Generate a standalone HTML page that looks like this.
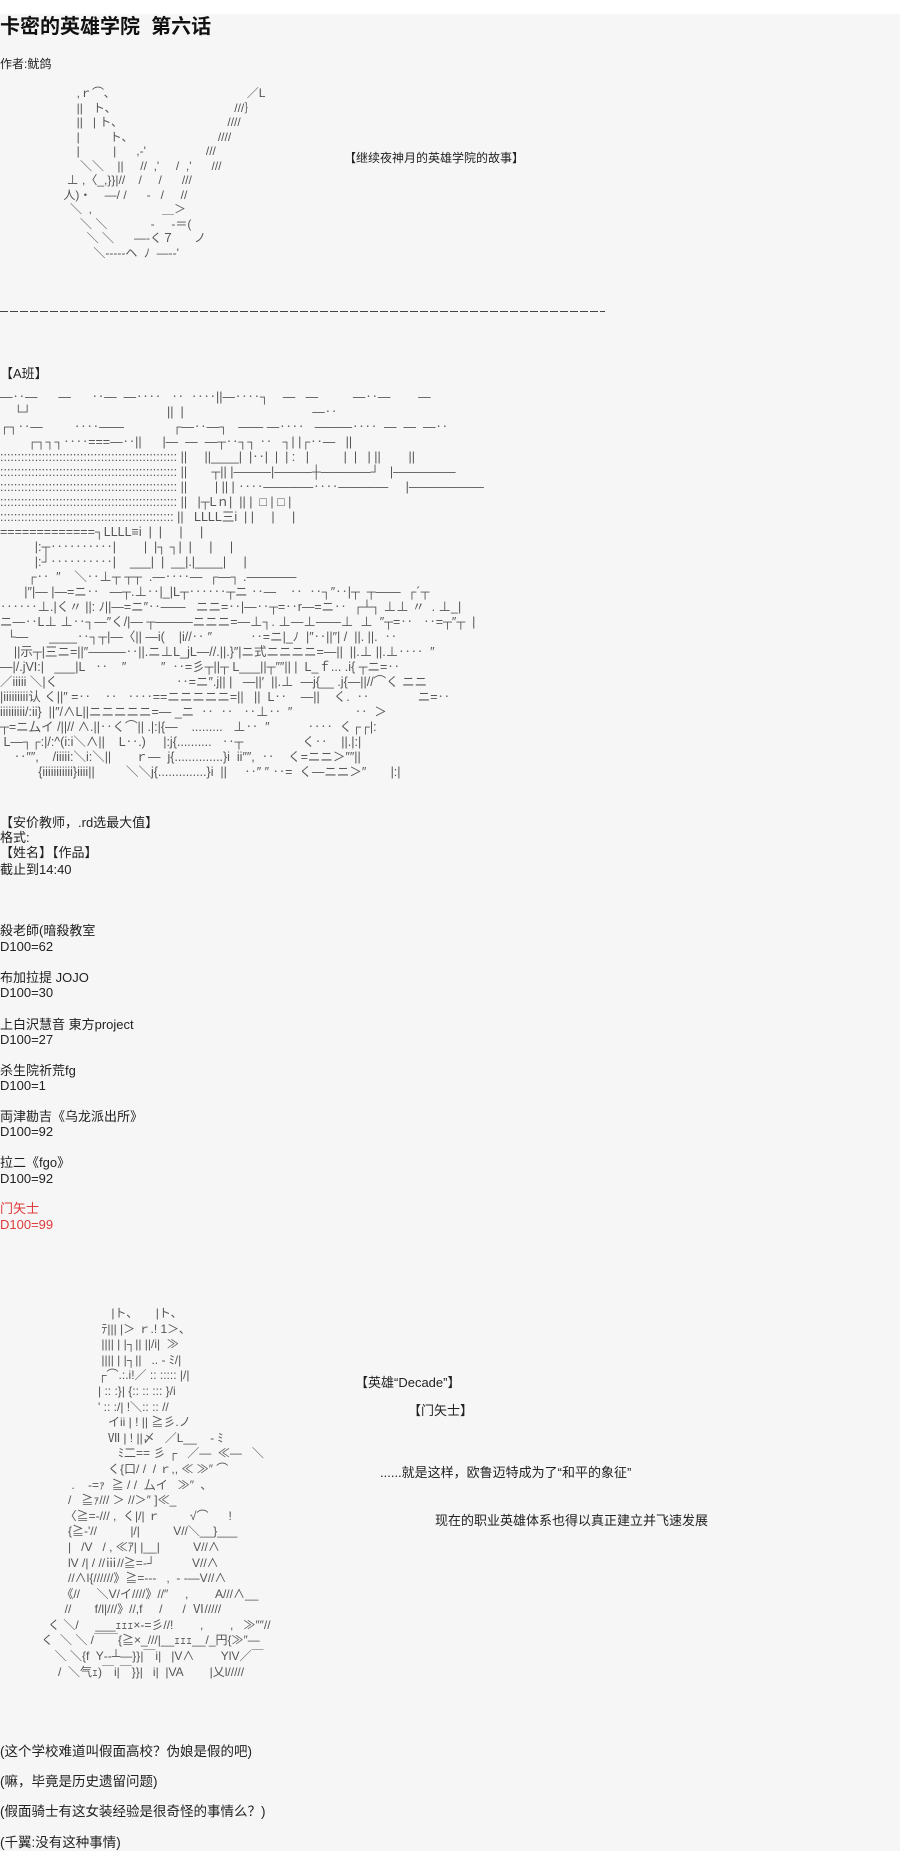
<!DOCTYPE html>
<html><head><meta charset="utf-8"><style>
html,body{margin:0;padding:0;}
body{width:900px;height:1851px;background:#f6f6f6;position:relative;overflow:hidden;font-family:"Liberation Sans","Noto Sans CJK SC",sans-serif;color:#222;}
.top{position:absolute;left:0;top:0;width:900px;height:14px;background:#fff;}
.t{position:absolute;white-space:nowrap;font-size:13px;line-height:15px;}
.aa{position:absolute;white-space:pre;font-family:"Liberation Sans","Noto Sans CJK JP",sans-serif;color:#555;font-size:11px;}
.red{color:#e03a3a;}
</style></head><body>
<div class="top"></div>
<div class="t" style="left:0;top:15px;font-size:20px;line-height:24px;font-weight:bold;color:#111;">卡密的英雄学院&nbsp;&nbsp;第六话</div>
<div class="t" style="left:0;top:57px;font-size:12px;">作者:鱿鸽</div>
<div class="aa" style="left:50px;top:86px;line-height:14.5px;font-size:12px;">        ,ｒ⌒､                                         ／L
        ||   ト､                                     ///｝
        ||   | ト､                                 ////
        |         ト､                           ////
        |          |      ,-'                  ///
         ＼＼    ||     //  ,'     /  ,'      ///
     ⊥ ,〈_,}}|//    /     /      ///
    人)・    ―/ /      -   /     //
      ＼  ,                     ＿＞
         ＼ ＼             -     ‐＝(
           ＼ ＼      ―‐く７      ノ
             ＼-----ヘ  ﾉ  ―-‐'</div>
<div class="t" style="left:344px;top:151px;font-size:12px;">【继续夜神月的英雄学院的故事】</div>
<div style="position:absolute;left:0;top:311px;width:605px;height:1px;background:repeating-linear-gradient(90deg,#444 0 8px,transparent 8px 10px);"></div>
<div class="t" style="left:0;top:366px;">【A班】</div>
<div class="aa" style="left:0;top:390px;line-height:15px;font-size:12.5px;">―‥―      ―      ‥―  ―‥‥   ‥  ‥‥||―‥‥┐    ―   ―          ―‥―        ―
    └┘                                       ||  |                                     ―‥
┌┐‥―         ‥‥――              ┌―‥―┐   ―― ―‥‥   ―――‥‥  ―  ―  ―‥
        ┌┐┐┐‥‥===―‥||      |―  ―  ―┬‥┐┐ ‥   ┐| |┌‥―   ||
::::::::::::::::::::::::::::::::::::::::::::::::::: ||     ||____|  |‥|  |  | :   |          |  |   | ||        ||
::::::::::::::::::::::::::::::::::::::::::::::::::: ||       ┬|| |―――|―――┼――――┘   |―――――
::::::::::::::::::::::::::::::::::::::::::::::::::: ||        | || | ‥‥――――‥‥――――     |――――――
::::::::::::::::::::::::::::::::::::::::::::::::::: ||   |┬Lｎ|  || |  □ | □ |
:::::::::::::::::::::::::::::::::::::::::::::::::: ||   LLLL三i  | |     |     |
=============┐LLLL≡i  |  |     |     |
          |:┬‥‥‥‥‥|        |  |┐ ┐|  |     |     |
          |:┘‥‥‥‥‥|    ___|  |  __|.|____|     |
        ┌‥  ″    ＼‥⊥┬ ┬┬  .―‥‥―  ┌―┐ .――――
       |″|― |―=ニ‥   ―┬.⊥‥|_|L┬‥‥‥┬ニ ‥―    ‥  ‥┐″‥|┬  ┬――  ┌´┬
‥‥‥⊥.|く〃 ||: ﾉ||―=ニ″‥――   ニニ=‥|―‥┬=‥r―=ニ‥  ┌┴┐ ⊥⊥ 〃  . ⊥_|
ニ―‥L⊥ ⊥‥┐―″く/|― ┬―――ニニニ=―⊥┐. ⊥―⊥――⊥  ⊥  ″┬=‥   ‥=┬″┬  |
  └―      ____‥┐┬|―〈|| ―i(    |i//‥ ″           ‥=ニ|_ﾉ  |″‥||″| /  ||. ||.  ‥
    ||示┬|三ニ=||″―――‥||.ニ⊥L_jL―//.||.}″|ニ式ニニニニ=―||  ||.⊥ ||.⊥‥‥  ″
―|/.jVI:|   ___|L   ‥    ″          ″  ‥=彡┬||┬ L___||┬″″|| |  L_ｆ... .i{ ┬ニ=‥
／iiiii ＼|く                                  ‥=ニ″.j|| |   ―||′  ||.⊥  ―j{__ .j{―||//⌒く ニニ
|iiiiiiiii认 く||″ =‥    ‥   ‥‥==ニニニニニ=||   ||  L‥    ―||    く.  ‥              ニ=‥
iiiiiiiii/:ii}  ||″/∧L||ニニニニニ=― _ニ  ‥  ‥   ‥⊥‥  ″                  ‥  ＞
┬=ニ厶イ /||// ∧.||‥く⌒|| .|:|{―    .........   ⊥‥  ″           ‥‥  く┌┌|:
 L―┐┌:|/:^(i:i＼∧||    L‥.)     |:j{..........   ‥┬                 く‥    ||.|:|
    ‥″″,    /iiiii:＼i:＼||       ｒ―  j{..............}i  ii″″,  ‥    く=ニニ＞″″||
           {iiiiiiiiiii}iiii||         ＼＼j{..............}i  ||     ‥″ ″ ‥=  く―ニニ＞″       |:|</div>
<div class="t" style="left:0;top:815px;">【安价教师，.rd选最大值】</div>
<div class="t" style="left:0;top:830px;">格式:</div>
<div class="t" style="left:0;top:845px;">【姓名】【作品】</div>
<div class="t" style="left:0;top:862px;">截止到14:40</div>
<div class="t" style="left:0;top:923px;">殺老師(暗殺教室</div>
<div class="t" style="left:0;top:939px;">D100=62</div>
<div class="t" style="left:0;top:970px;">布加拉提 JOJO</div>
<div class="t" style="left:0;top:985px;">D100=30</div>
<div class="t" style="left:0;top:1017px;">上白沢慧音 東方project</div>
<div class="t" style="left:0;top:1032px;">D100=27</div>
<div class="t" style="left:0;top:1063px;">杀生院祈荒fg</div>
<div class="t" style="left:0;top:1078px;">D100=1</div>
<div class="t" style="left:0;top:1109px;">両津勘吉《乌龙派出所》</div>
<div class="t" style="left:0;top:1124px;">D100=92</div>
<div class="t" style="left:0;top:1155px;">拉二《fgo》</div>
<div class="t" style="left:0;top:1171px;">D100=92</div>
<div class="t red" style="left:0;top:1201px;">门矢士</div>
<div class="t red" style="left:0;top:1217px;">D100=99</div>
<div class="aa" style="left:8px;top:1306px;line-height:15.6px;font-size:12px;">                               |ト､       |ト､
                            ﾃ||| |＞ ｒ.! 1＞､
                            |||| | |┐|| ||/i|  ≫
                            |||| | |┐||   .. ‐ ﾐ/|
                           ┌⌒.:.i!／ :: ::::: |/|
                           | :: :}| {:: :: ::: }/i
                           ' :: :/| !＼:: :: //
                              イii | ! || ≧彡.ノ
                              Ⅶ | ! ||〆   ／L__    ‐ ﾐ
                                 ﾐ二== 彡 ┌   ／―  ≪―   ＼
                              く{口/ /  / ｒ,, ≪ ≫″ ⌒
                   .    ‐=ｧ  ≧ / /  厶イ   ≫″  ､
                  /   ≧ｧ/// ＞ //＞″ ]≪_
                 〈≧=‐/// ,  く|/| ｒ         √⌒      !
                  {≧‐'//          |/|          V//＼__}___
                  |   /V   / , ≪ｱ| |__|          V//∧
                  lV /| / //ⅲ//≧=‐┘           V//∧
                  //∧l{//////》≧=‐‐‐   ,  ‐ ‐―V//∧
                《//     ＼V/イ////》//″     ,        A///∧__
                 //       f/l|///》//,f     /      /  Ⅵ/////
            く ＼/     ___ｪｪｪ×‐=彡//!        ,        ,   ≫″″//
          く  ＼ ＼ /￣￣{≧×_///|__ｪｪｪ__/_円{≫″―
              ＼ ＼{f  Y‐‐┴―}}|￣i|   |V∧        YlV／￣
               /  ＼气ｪ)￣i|￣}}|   i|  |VA        |乂l/////</div>
<div class="t" style="left:355px;top:1375px;">【英雄“Decade”】</div>
<div class="t" style="left:408px;top:1403px;">【门矢士】</div>
<div class="t" style="left:380px;top:1465px;">......就是这样，欧鲁迈特成为了“和平的象征”</div>
<div class="t" style="left:435px;top:1513px;">现在的职业英雄体系也得以真正建立并飞速发展</div>
<div class="t" style="left:0;top:1744px;font-size:13.5px;">(这个学校难道叫假面高校？伪娘是假的吧)</div>
<div class="t" style="left:0;top:1774px;font-size:13.5px;">(嘛，毕竟是历史遗留问题)</div>
<div class="t" style="left:0;top:1804px;font-size:13.5px;">(假面骑士有这女装经验是很奇怪的事情么？)</div>
<div class="t" style="left:0;top:1835px;font-size:13.5px;">(千翼:没有这种事情)</div>
</body></html>
